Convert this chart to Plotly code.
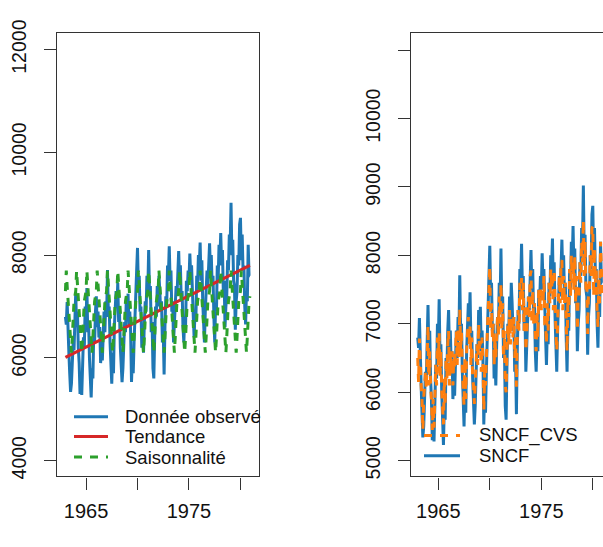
import plotly.graph_objects as go

# ---------------- data ----------------
years = list(range(1963, 1981))

sncf = [
    [6800, 6650, 7085, 6400, 6100, 5700, 5340, 5500, 5900, 6300, 6150, 6700],  # 1963
    [7275, 6600, 6900, 6200, 5900, 5300, 5600, 5280, 6000, 6400, 6200, 7000],  # 1964
    [6700, 7360, 6500, 6700, 6000, 5400, 5230, 5800, 5600, 6500, 6300, 6900],  # 1965
    [7200, 6600, 6900, 6400, 6600, 5900, 6200, 5950, 6400, 6900, 6500, 7100],  # 1966
    [6800, 7710, 6900, 7000, 6300, 5800, 5500, 6100, 5700, 6600, 6900, 7300],  # 1967
    [7000, 7460, 6700, 6900, 6200, 5900, 5530, 5800, 6200, 6700, 6500, 7200],  # 1968
    [6900, 7250, 6600, 6900, 6500, 5530, 6000, 5700, 6300, 6900, 7200, 7700],  # 1969
    [8140, 7400, 7600, 6900, 7000, 6200, 6500, 6100, 6700, 7100, 6900, 7600],  # 1970
    [7300, 8100, 7200, 7400, 6500, 6700, 5800, 5600, 6400, 7000, 6800, 7400],  # 1971
    [7000, 7600, 7300, 6900, 7100, 6300, 6500, 5680, 6600, 7200, 7000, 7800],  # 1972
    [7600, 8170, 7500, 7700, 6900, 7100, 6300, 6600, 6900, 7400, 7200, 7900],  # 1973
    [8080, 7500, 7800, 7100, 7300, 6600, 6300, 6800, 6600, 7500, 7300, 7700],  # 1974
    [7500, 8030, 7600, 7800, 7000, 6800, 6400, 6900, 6700, 7600, 7400, 8000],  # 1975
    [7800, 8245, 7500, 7900, 7100, 6700, 6300, 6900, 7200, 7700, 7400, 8100],  # 1976
    [8230, 7700, 8000, 7400, 7600, 6800, 6300, 7000, 6900, 7800, 7500, 8200],  # 1977
    [7900, 8430, 7800, 8100, 7300, 7500, 6600, 7000, 7200, 7900, 7700, 8400],  # 1978
    [8200, 9020, 8000, 8300, 7500, 7400, 6550, 7100, 7300, 8000, 7800, 8600],  # 1979
    [8725, 7900, 8400, 7700, 7800, 7000, 6650, 7300, 7100, 8200, 7600, 7600],  # 1980
]

sncf_cvs = [
    [6500, 6150, 6785, 6300, 6100, 5900, 5450, 5900, 6100, 6300, 6050, 6500],
    [6975, 6100, 6600, 6100, 5900, 5450, 5900, 5480, 6200, 6400, 6100, 6800],
    [6400, 6860, 6200, 6600, 6000, 5600, 5530, 6200, 5800, 6500, 6200, 6700],
    [6900, 6100, 6600, 6300, 6600, 6100, 6500, 6350, 6600, 6900, 6400, 6900],
    [6500, 7210, 6600, 6900, 6300, 6000, 5800, 6500, 5900, 6600, 6800, 7100],
    [6700, 6960, 6400, 6800, 6200, 6100, 5830, 6200, 6400, 6700, 6400, 7000],
    [6600, 6750, 6300, 6800, 6500, 5730, 6300, 6100, 6500, 6900, 7100, 7500],
    [7840, 6900, 7300, 6800, 7000, 6400, 6800, 6500, 6900, 7100, 6800, 7400],
    [7000, 7600, 6900, 7300, 6500, 6900, 6100, 6000, 6600, 7000, 6700, 7200],
    [6700, 7100, 7000, 6800, 7100, 6500, 6800, 6080, 6800, 7200, 6900, 7600],
    [7300, 7670, 7200, 7600, 6900, 7300, 6600, 7000, 7100, 7400, 7100, 7700],
    [7780, 7000, 7500, 7000, 7300, 6800, 6600, 7200, 6800, 7500, 7200, 7500],
    [7200, 7530, 7300, 7700, 7000, 7000, 6700, 7300, 6900, 7600, 7300, 7800],
    [7500, 7745, 7200, 7800, 7100, 6900, 6600, 7300, 7400, 7700, 7300, 7900],
    [7930, 7200, 7700, 7300, 7600, 7000, 6600, 7400, 7100, 7800, 7400, 8000],
    [7600, 7930, 7500, 8000, 7300, 7700, 6900, 7400, 7400, 7900, 7600, 8200],
    [7900, 8520, 7700, 8200, 7500, 7600, 6850, 7500, 7500, 8000, 7700, 8400],
    [8425, 7400, 8100, 7600, 7800, 7200, 6950, 7700, 7300, 8200, 7500, 7400],
]

# one year of the (periodic) seasonal component, Jan..Dec
saison_year = [7300, 7700, 7400, 7100, 6900, 6600, 6200, 6100, 6400, 6800, 7100, 7200]

# linear trend: start / end
trend_dates = [1963.0, 1980 + 11 / 12]
trend_values = [6010, 7800]

x_ticks = [1965, 1970, 1975, 1980]
x_ticktext = ["1965", "", "1975", ""]
y_ticks_left = [4000, 6000, 8000, 10000, 12000]
y_ticktext_left = ["4000", "6000", "8000", "10000", "12000"]
y_ticks_right = [5000, 6000, 7000, 8000, 9000, 10000, 11000]
y_ticktext_right = ["5000", "6000", "7000", "8000", "9000", "10000", ""]

# ---------------- build ----------------
t = []
obs = []
cvs = []
seas = []
for yi, yr in enumerate(years):
    for m in range(12):
        t.append(yr + m / 12)
        obs.append(sncf[yi][m])
        cvs.append(sncf_cvs[yi][m])
        seas.append(saison_year[m])

BLUE = "#1f77b4"
RED = "#d62728"
GREEN = "#2ca02c"
ORANGE = "#ff7f0e"
AX = "#333333"
TXT = "#111111"
FONT = "Liberation Sans, Arial, sans-serif"
W, H = 603, 547

fig = go.Figure()
lw = 3
fig.add_trace(go.Scatter(x=t, y=obs, mode="lines", line=dict(color=BLUE, width=lw),
                         xaxis="x", yaxis="y", showlegend=False))
fig.add_trace(go.Scatter(x=trend_dates, y=trend_values, mode="lines", line=dict(color=RED, width=lw),
                         xaxis="x", yaxis="y", showlegend=False))
fig.add_trace(go.Scatter(x=t, y=seas, mode="lines", line=dict(color=GREEN, width=lw, dash="8px,8px"),
                         xaxis="x", yaxis="y", showlegend=False))
fig.add_trace(go.Scatter(x=t, y=obs, mode="lines", line=dict(color=BLUE, width=lw),
                         xaxis="x2", yaxis="y2", showlegend=False))
fig.add_trace(go.Scatter(x=t, y=cvs, mode="lines", line=dict(color=ORANGE, width=lw, dash="8px,8px"),
                         xaxis="x2", yaxis="y2", showlegend=False))

def px_x(p):
    return p / W

def px_y(p):
    return 1 - p / H

ybot, ytop = px_y(477.3), px_y(20)

common_x = dict(showline=True, linecolor=AX, linewidth=1.2, mirror=True, ticks="outside",
                ticklen=12, tickwidth=1.2, tickcolor=AX, showgrid=False, zeroline=False,
                tickvals=x_ticks, ticktext=x_ticktext,
                tickfont=dict(family=FONT, size=20, color=TXT), ticklabelstandoff=4)
common_y = dict(showline=True, linecolor=AX, linewidth=1.2, ticks="outside",
                ticklen=12, tickwidth=1.2, tickcolor=AX, showgrid=False, zeroline=False,
                tickangle=-90, tickfont=dict(family=FONT, size=19.5, color=TXT),
                ticklabelstandoff=10)

fig.update_layout(
    width=W, height=H,
    margin=dict(l=0, r=0, t=0, b=0),
    paper_bgcolor="white", plot_bgcolor="white",
    showlegend=False,
    xaxis=dict(domain=[px_x(57.3), px_x(259)], range=[1962.21, 1981.8], anchor="y", **common_x),
    yaxis=dict(domain=[ybot, ytop], range=[3693, 12315], anchor="x", mirror=True,
               tickvals=y_ticks_left, ticktext=y_ticktext_left, **common_y),
    xaxis2=dict(domain=[px_x(410.7), 1.0], range=[1962.32, 1962.32 + (603 - 410.7) / 10.3],
                anchor="y2", **common_x),
    yaxis2=dict(domain=[ybot, ytop], range=[4769, 11245], anchor="x2", mirror=False,
                tickvals=y_ticks_right, ticktext=y_ticktext_right, **common_y),
)

# ---------------- legends (drawn like R's legend) ----------------
shapes = []
annots = []
leg_left = [("Donnée observé", BLUE, "solid", 415.7),
            ("Tendance", RED, "solid", 436.0),
            ("Saisonnalité", GREEN, "8px,8px", 457.3)]
for label, col, dash, yy in leg_left:
    shapes.append(dict(type="line", xref="paper", yref="paper",
                       x0=px_x(74), x1=px_x(108), y0=px_y(yy), y1=px_y(yy),
                       line=dict(color=col, width=lw, dash=dash)))
    annots.append(dict(text=label, xref="paper", yref="paper", x=px_x(123), y=px_y(yy),
                       xanchor="left", yanchor="middle", showarrow=False,
                       font=dict(family=FONT, size=18.5, color=TXT)))
leg_right = [("SNCF_CVS", ORANGE, "8px,8px", 435.0),
             ("SNCF", BLUE, "solid", 456.0)]
for label, col, dash, yy in leg_right:
    shapes.append(dict(type="line", xref="paper", yref="paper",
                       x0=px_x(424), x1=px_x(460), y0=px_y(yy), y1=px_y(yy),
                       line=dict(color=col, width=lw, dash=dash)))
    annots.append(dict(text=label, xref="paper", yref="paper", x=px_x(476.7), y=px_y(yy),
                       xanchor="left", yanchor="middle", showarrow=False,
                       font=dict(family=FONT, size=18.5, color=TXT)))
fig.update_layout(shapes=shapes, annotations=annots)

fig.write_html("out.html")
